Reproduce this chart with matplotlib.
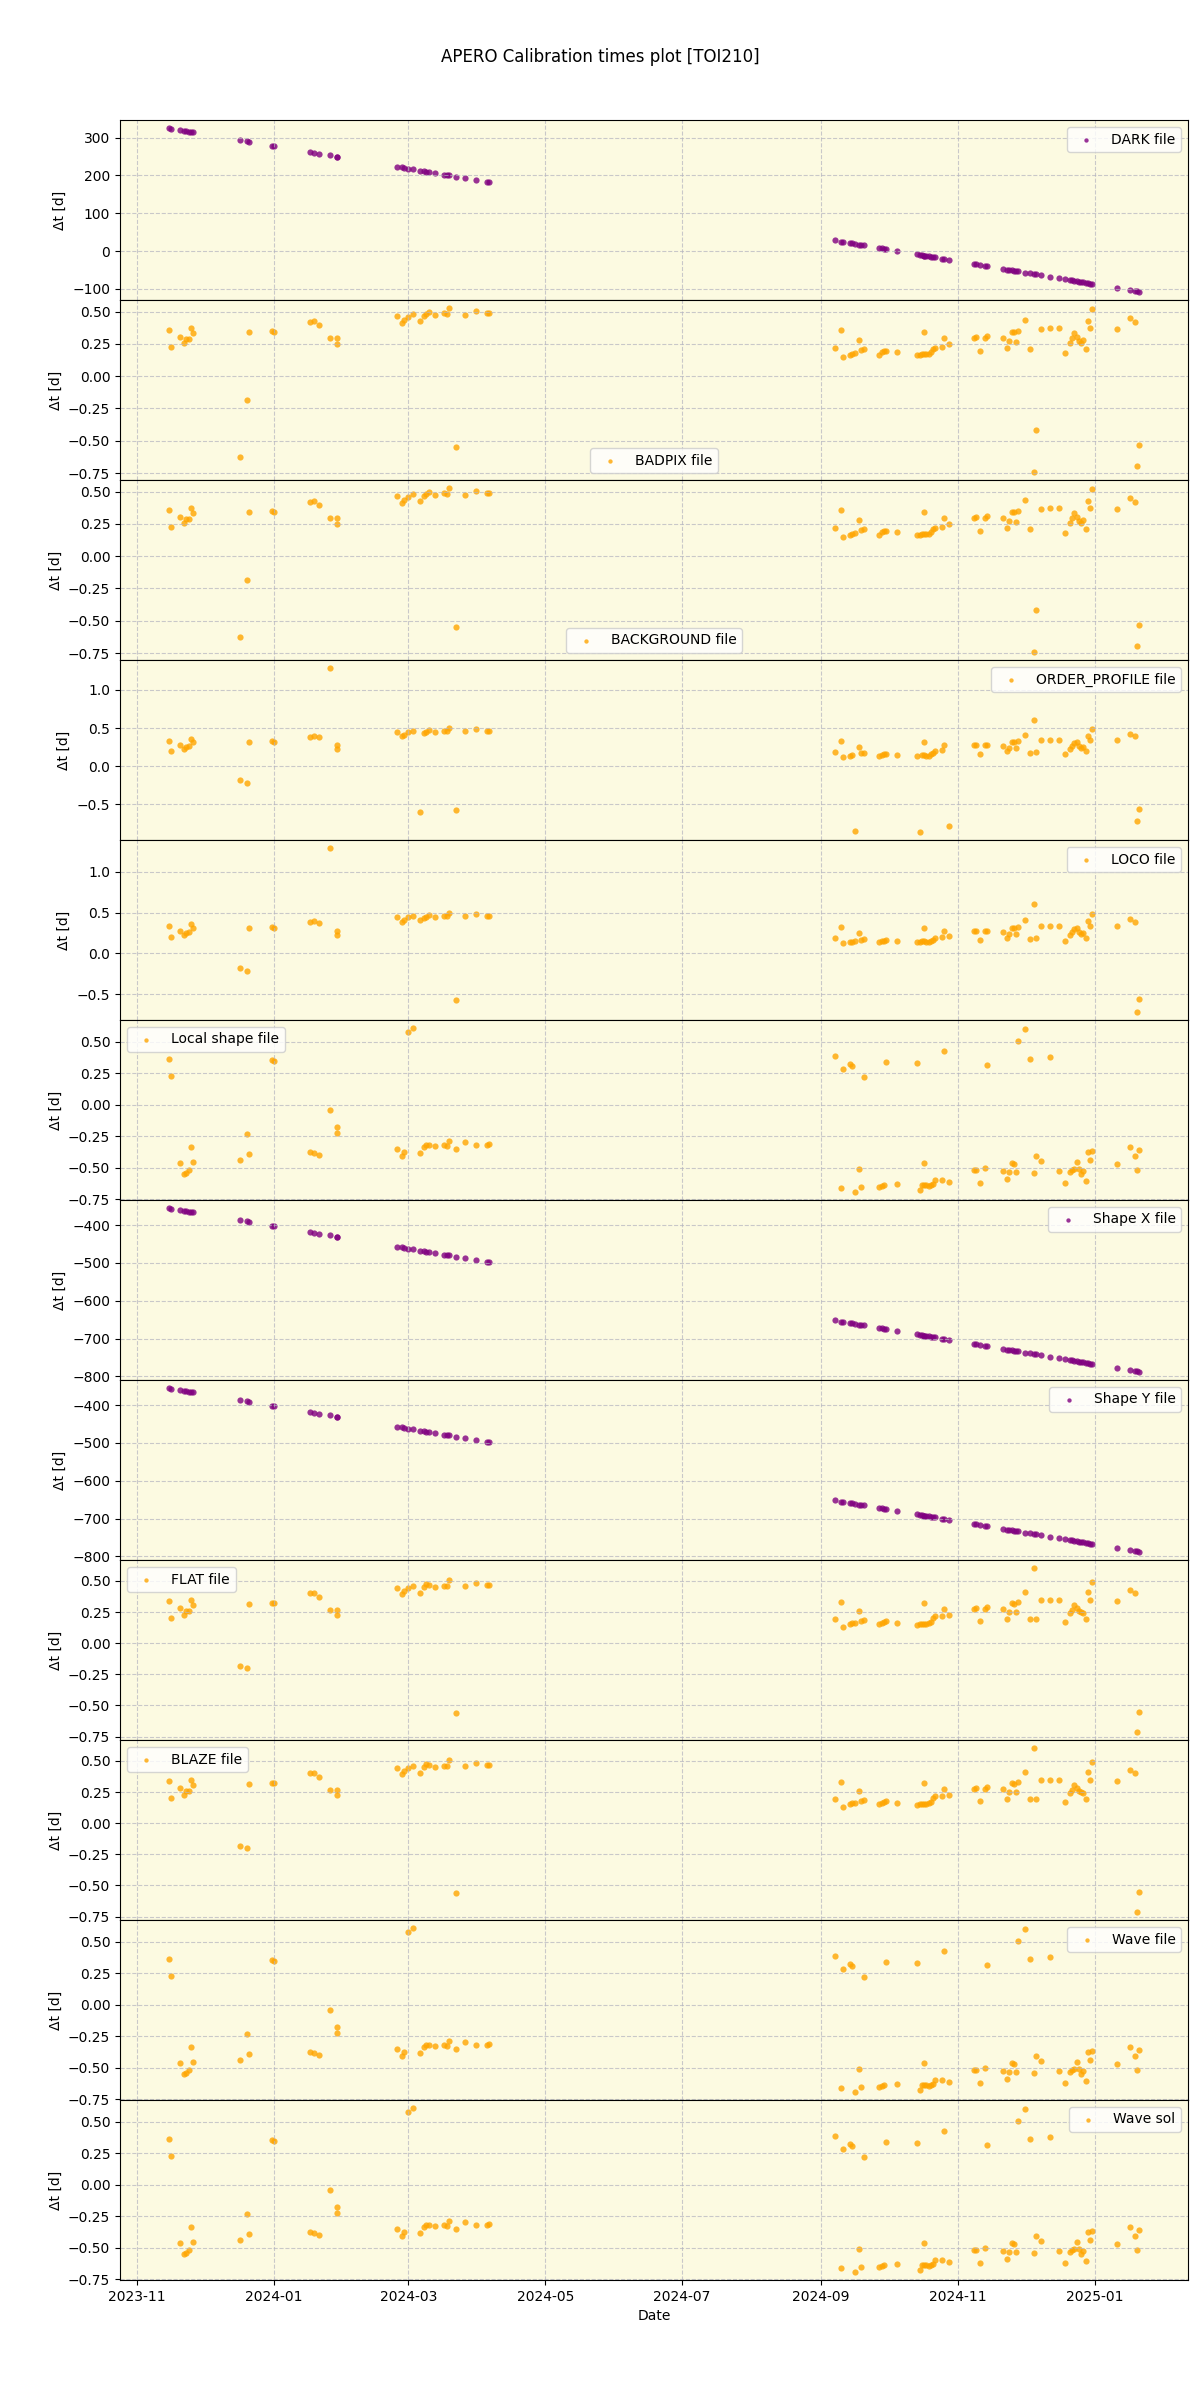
import matplotlib
matplotlib.use('Agg')
import matplotlib.pyplot as plt
import numpy as np

# observation dates (Nov 2023 - Apr 2024, then Sep 2024 - Jan 2025)
obs_dates = [
    '2023-11-15', '2023-11-16', '2023-11-20', '2023-11-22', '2023-11-23', '2023-11-24', '2023-11-25', '2023-11-26',
    '2023-12-17', '2023-12-20', '2023-12-21', '2023-12-31', '2024-01-01',
    '2024-01-17', '2024-01-19', '2024-01-21', '2024-01-26', '2024-01-29', '2024-01-29',
    '2024-02-25', '2024-02-27', '2024-02-28', '2024-03-01', '2024-03-03', '2024-03-06', '2024-03-08', '2024-03-09',
    '2024-03-10', '2024-03-13', '2024-03-17', '2024-03-18', '2024-03-19', '2024-03-22', '2024-03-26', '2024-03-31',
    '2024-04-05', '2024-04-06',
    '2024-09-07', '2024-09-10', '2024-09-11', '2024-09-14', '2024-09-15', '2024-09-16', '2024-09-18', '2024-09-19',
    '2024-09-20', '2024-09-27', '2024-09-28', '2024-09-29', '2024-09-30',
    '2024-10-05', '2024-10-14', '2024-10-15', '2024-10-16', '2024-10-17', '2024-10-17', '2024-10-18', '2024-10-19',
    '2024-10-20', '2024-10-21', '2024-10-22', '2024-10-25', '2024-10-26', '2024-10-28',
    '2024-11-08', '2024-11-09', '2024-11-11', '2024-11-13', '2024-11-14', '2024-11-21', '2024-11-23', '2024-11-24',
    '2024-11-25', '2024-11-26', '2024-11-27', '2024-11-28',
    '2024-12-01', '2024-12-03', '2024-12-05', '2024-12-06', '2024-12-08', '2024-12-12', '2024-12-16', '2024-12-19',
    '2024-12-21', '2024-12-22', '2024-12-23', '2024-12-24', '2024-12-25', '2024-12-26', '2024-12-27', '2024-12-28',
    '2024-12-29', '2024-12-30', '2024-12-31',
    '2025-01-11', '2025-01-17', '2025-01-19', '2025-01-20', '2025-01-21',
]

dark = [
    325, 324, 320, 318, 317, 316, 315, 314,
    293, 290, 289, 279, 278,
    262, 260, 258, 253, 250, 250,
    223, 221, 220, 218, 216, 213, 211, 210, 209, 206, 202, 201, 200, 197, 193, 188, 183, 182,
    28, 25, 24, 21, 20, 19, 17, 16, 15, 8, 7, 6, 5,
    0, -9, -10, -11, -12, -12, -13, -14, -15, -16, -17, -20, -21, -23,
    -34, -35, -37, -39, -40, -47, -49, -50, -51, -52, -53, -54,
    -57, -59, -61, -62, -64, -68, -72, -75, -77, -78, -79, -80, -81, -82, -83, -84, -85, -86, -87,
    -98, -104, -106, -107, -108,
]

shape = [
    -355, -356, -360, -362, -363, -364, -365, -366,
    -387, -390, -391, -401, -402,
    -418, -420, -422, -427, -430, -430,
    -457, -459, -460, -462, -464, -467, -469, -470, -471, -474, -478, -479, -480, -483, -487, -492, -497, -498,
    -652, -655, -656, -659, -660, -661, -663, -664, -665, -672, -673, -674, -675,
    -680, -689, -690, -691, -692, -692, -693, -694, -695, -696, -697, -700, -701, -703,
    -714, -715, -717, -719, -720, -727, -729, -730, -731, -732, -733, -734,
    -737, -739, -741, -742, -744, -748, -752, -755, -757, -758, -759, -760, -761, -762, -763, -764, -765, -766, -767,
    -778, -784, -786, -787, -788,
]

badpix = [
    0.357, 0.224, 0.302, 0.255, 0.284, 0.286, 0.372, 0.331,
    -0.628, -0.185, 0.344, 0.349, 0.339,
    0.417, 0.424, 0.398, 0.294, 0.294, 0.247,
    0.464, 0.414, 0.435, 0.461, 0.479, 0.424, 0.464, 0.482, 0.500, 0.471, 0.490, 0.482, 0.526, -0.550, 0.477, 0.505,
    0.487, 0.490,
    0.216, 0.357, 0.148, 0.167, 0.172, 0.180, 0.279, 0.200, 0.208, 0.167, 0.190, 0.193, 0.193,
    0.185, 0.167, 0.167, 0.169, 0.341, 0.172, 0.174, 0.174, 0.188, 0.211, 0.221, 0.229, 0.294, 0.247,
    0.294, 0.302, 0.193, 0.294, 0.310, 0.299, 0.216, 0.271, 0.341, 0.344, 0.263, 0.349,
    0.435, 0.208, -0.740, -0.420, 0.365, 0.370, 0.370, 0.182, 0.260, 0.294, 0.336, 0.300, 0.273, 0.255, 0.281,
    0.214, 0.427, 0.372, 0.520,
    0.362, 0.450, 0.419, -0.698, -0.534,
]

order_profile = [
    0.329, 0.197, 0.272, 0.232, 0.254, 0.259, 0.355, 0.311,
    -0.175, -0.215, 0.311, 0.325, 0.311,
    0.386, 0.395, 0.377, 1.285, 0.272, 0.224,
    0.443, 0.390, 0.404, 0.447, 0.456, -0.596, 0.439, 0.452, 0.474, 0.443, 0.456, 0.460, 0.496, -0.570, 0.456, 0.482,
    0.456, 0.460,
    0.184, 0.325, 0.127, 0.140, 0.145, -0.846, 0.250, 0.171, 0.175, 0.140, 0.149, 0.158, 0.162,
    0.149, 0.136, -0.860, 0.149, 0.311, 0.149, 0.140, 0.140, 0.154, 0.171, 0.193, 0.206, 0.276, -0.780,
    0.272, 0.272, 0.162, 0.272, 0.281, 0.268, 0.193, 0.241, 0.311, 0.316, 0.237, 0.329,
    0.404, 0.175, 0.601, 0.189, 0.338, 0.338, 0.338, 0.154, 0.232, 0.268, 0.303, 0.311, 0.263, 0.237, 0.250,
    0.193, 0.399, 0.342, 0.482,
    0.338, 0.421, 0.390, -0.715, -0.561,
]

loco = [
    0.332, 0.197, 0.272, 0.232, 0.254, 0.259, 0.355, 0.311,
    -0.172, -0.209, 0.311, 0.325, 0.311,
    0.386, 0.395, 0.377, 1.290, 0.272, 0.224,
    0.443, 0.390, 0.404, 0.447, 0.456, 0.406, 0.439, 0.452, 0.474, 0.443, 0.456, 0.460, 0.496, -0.566, 0.456, 0.482,
    0.456, 0.460,
    0.184, 0.325, 0.127, 0.140, 0.145, 0.149, 0.250, 0.171, 0.175, 0.140, 0.149, 0.158, 0.162,
    0.149, 0.136, 0.140, 0.149, 0.311, 0.149, 0.140, 0.140, 0.154, 0.171, 0.193, 0.206, 0.276, 0.220,
    0.272, 0.272, 0.162, 0.272, 0.281, 0.268, 0.193, 0.241, 0.311, 0.316, 0.237, 0.329,
    0.404, 0.175, 0.601, 0.189, 0.338, 0.338, 0.338, 0.154, 0.232, 0.268, 0.303, 0.311, 0.263, 0.237, 0.250,
    0.193, 0.399, 0.342, 0.482,
    0.338, 0.421, 0.390, -0.715, -0.561,
]

flat = [
    0.336, 0.200, 0.280, 0.230, 0.260, 0.260, 0.350, 0.310,
    -0.180, -0.200, 0.317, 0.320, 0.320,
    0.400, 0.400, 0.374, 0.270, 0.270, 0.230,
    0.440, 0.395, 0.417, 0.440, 0.460, 0.403, 0.449, 0.473, 0.470, 0.449, 0.462, 0.460, 0.505, -0.559, 0.457, 0.480,
    0.468, 0.468,
    0.194, 0.333, 0.129, 0.150, 0.159, 0.161, 0.258, 0.177, 0.188, 0.156, 0.164, 0.172, 0.175,
    0.164, 0.148, 0.150, 0.150, 0.323, 0.150, 0.156, 0.160, 0.172, 0.200, 0.215, 0.215, 0.277, 0.223,
    0.277, 0.282, 0.175, 0.277, 0.290, 0.277, 0.196, 0.250, 0.323, 0.317, 0.250, 0.328,
    0.411, 0.190, 0.602, 0.196, 0.344, 0.344, 0.344, 0.167, 0.240, 0.270, 0.310, 0.280, 0.260, 0.250, 0.240,
    0.196, 0.409, 0.347, 0.495,
    0.341, 0.425, 0.403, -0.712, -0.551,
]

local_shape = [
    0.362, 0.226, -0.463, -0.550, -0.545, -0.519, -0.336, -0.455,
    -0.442, -0.233, -0.392, 0.357, 0.347,
    -0.378, -0.384, -0.400, -0.042, -0.180, -0.222,
    -0.352, -0.407, -0.376, 0.577, 0.606, -0.386, -0.336, -0.317, -0.320, -0.331, -0.323, -0.328, -0.286, -0.354,
    -0.299, -0.323, -0.320, -0.312,
    0.386, -0.662, 0.283, 0.325, 0.307, -0.692, -0.511, -0.653, 0.220, -0.653, -0.643, -0.638, 0.339,
    -0.632, 0.331, -0.680, -0.638, -0.463, -0.638, -0.638, -0.645, -0.638, -0.630, -0.598, -0.598, 0.426, -0.616,
    -0.521, -0.519, -0.622, -0.505, 0.313, -0.526, -0.593, -0.537, -0.463, -0.471, -0.537, 0.505,
    0.600, 0.362, -0.542, -0.407, -0.447, 0.378, -0.524, -0.624, -0.534, -0.521, -0.513, -0.458, -0.511, -0.553,
    -0.526, -0.606, -0.376, -0.439, -0.368,
    -0.474, -0.339, -0.407, -0.519, -0.360,
]

dates = np.array(obs_dates, dtype='datetime64[D]')

# (label, values, colour, legend position)
panels = [
    ('DARK file', dark, 'purple', 'upper right'),
    ('BADPIX file', badpix, 'orange', 'lower center'),
    ('BACKGROUND file', badpix, 'orange', 'lower center'),
    ('ORDER_PROFILE file', order_profile, 'orange', 'upper right'),
    ('LOCO file', loco, 'orange', 'upper right'),
    ('Local shape file', local_shape, 'orange', 'upper left'),
    ('Shape X file', shape, 'purple', 'upper right'),
    ('Shape Y file', shape, 'purple', 'upper right'),
    ('FLAT file', flat, 'orange', 'upper left'),
    ('BLAZE file', flat, 'orange', 'upper left'),
    ('Wave file', local_shape, 'orange', 'upper right'),
    ('Wave sol', local_shape, 'orange', 'upper right'),
]

fig, axes = plt.subplots(len(panels), 1, figsize=(12, 24), sharex=True)
fig.subplots_adjust(left=0.1, right=0.99, top=0.95, bottom=0.05, hspace=0)

for ax, (label, vals, col, loc) in zip(axes, panels):
    ax.set_facecolor('#fcfae1')
    ax.scatter(dates, vals, s=20, color=col, alpha=0.8, linewidths=0, label=label)
    ax.set_ylabel('Δt [d]')
    ax.grid(True, linestyle='--', color='#b4b4c0', alpha=0.7)
    ax.legend(loc=loc, markerscale=0.7)

axes[-1].set_xlabel('Date')
fig.suptitle('APERO Calibration times plot [TOI210]')

plt.savefig('out.png', dpi=100)
